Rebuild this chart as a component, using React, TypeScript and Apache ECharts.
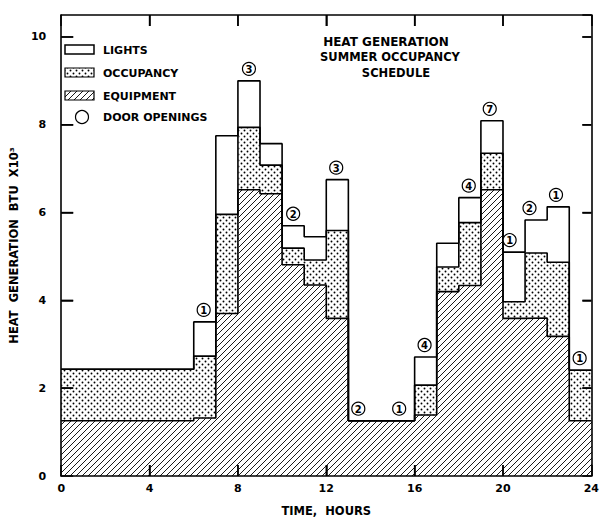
import React, { useEffect, useRef } from "react";
import * as echarts from "echarts";

// Hour bins (start of each bin; last bin ends at 24)
const hourStart = [0, 6, 7, 8, 9, 10, 11, 12, 13, 16, 17, 18, 19, 20, 21, 22, 23];
const hourEnd = 24;
// Heat generation components, BTU x10^3
const equipment = [1.26, 1.32, 3.7, 6.52, 6.43, 4.81, 4.35, 3.59, 1.26, 1.39, 4.2, 4.34, 6.52, 3.59, 3.6, 3.18, 1.26];
const occupancy = [1.17, 1.41, 2.26, 1.42, 0.65, 0.38, 0.57, 2.0, 0, 0.68, 0.56, 1.43, 0.83, 0.38, 1.48, 1.69, 1.15];
const lights = [0, 0.78, 1.79, 1.06, 0.49, 0.51, 0.53, 1.16, 0, 0.64, 0.54, 0.57, 0.74, 1.13, 0.75, 1.26, 0];
// Door openings (hour position, count)
const doorHour = [6.45, 8.5, 10.5, 12.45, 13.45, 15.3, 16.45, 18.45, 19.4, 20.3, 21.2, 22.4, 23.47];
const doorCount = [1, 3, 2, 3, 2, 1, 4, 4, 7, 1, 2, 1, 1];
// Axis ticks
const xTicks = { min: 0, max: 24, interval: 4 };
const yTicks = { min: 0, max: 10.5, interval: 2 };
const xTickMarks = [4, 8, 12, 16, 20];
const yTickMarks = [2, 4, 6, 8, 10];

const FONT = '"DejaVu Sans", sans-serif';

function makeHatch() {
  const s = 6;
  const c = document.createElement("canvas");
  c.width = s;
  c.height = s;
  const g = c.getContext("2d")!;
  g.fillStyle = "#fff";
  g.fillRect(0, 0, s, s);
  g.strokeStyle = "#000";
  g.lineWidth = 0.9;
  g.beginPath();
  g.moveTo(-1, s + 1);
  g.lineTo(s + 1, -1);
  g.moveTo(-1, 1);
  g.lineTo(1, -1);
  g.moveTo(s - 1, s + 1);
  g.lineTo(s + 1, s - 1);
  g.stroke();
  return { image: c, repeat: "repeat", imageWidth: s, imageHeight: s } as any;
}

function makeDots() {
  const s = 6;
  const c = document.createElement("canvas");
  c.width = s;
  c.height = s;
  const g = c.getContext("2d")!;
  g.fillStyle = "#fff";
  g.fillRect(0, 0, s, s);
  g.fillStyle = "#000";
  g.beginPath();
  g.arc(1.5, 1.5, 0.95, 0, Math.PI * 2);
  g.closePath();
  g.arc(4.5, 4.5, 0.95, 0, Math.PI * 2);
  g.fill();
  return { image: c, repeat: "repeat", imageWidth: s, imageHeight: s } as any;
}

export default function App() {
  const ref = useRef<HTMLDivElement>(null);
  useEffect(() => {
    if (!ref.current) return;
    const chart = echarts.init(ref.current, null, { renderer: "svg" });
    const hatch = makeHatch();
    const dots = makeDots();
    const eqTop = equipment.slice();
    const occTop = equipment.map((e, i) => e + occupancy[i]);
    const lightTop = occTop.map((o, i) => o + lights[i]);
    const binEnd = hourStart.map((_, i) => (i + 1 < hourStart.length ? hourStart[i + 1] : hourEnd));
    const bins = (lo: number[] | null, hi: number[]) =>
      hourStart.map((h, i) => [h, binEnd[i], lo ? lo[i] : 0, hi[i]]);
    const stepData = (vals: number[]) => {
      const d = hourStart.map((h, i) => [h, vals[i]]);
      d.push([hourEnd, vals[vals.length - 1]]);
      return d;
    };
    const doorData = doorHour.map((h, i) => {
      let k = 0;
      for (let j = 0; j < hourStart.length; j++) if (hourStart[j] <= h) k = j;
      return [h, lightTop[k], doorCount[i]];
    });
    const tickData = [
      ...xTickMarks.map((v) => [v, yTicks.min, 0]),
      ...yTickMarks.map((v) => [xTicks.min, v, 1]),
    ];

    const axisLine = { show: true, onZero: false, lineStyle: { color: "#000", width: 1.6 } };
    const tickStyle = { color: "#000", width: 1.5 };
    const labelStyle = { color: "#000", fontFamily: FONT, fontSize: 11, fontWeight: "bold" as const };

    const fillSeries = (name: string, lo: number[] | null, hi: number[], fill: any) => ({
      name,
      type: "custom",
      data: bins(lo, hi),
      encode: { x: [0, 1], y: [2, 3] },
      z: 2,
      silent: true,
      clip: true,
      renderItem: (params: any, api: any) => {
        const p0 = api.coord([api.value(0), api.value(2)]);
        const p1 = api.coord([api.value(1), api.value(3)]);
        const h = p0[1] - p1[1];
        if (h <= 0.01) return null;
        return {
          type: "rect",
          shape: { x: p0[0], y: p1[1], width: p1[0] - p0[0] + 0.6, height: h + 0.3 },
          style: { fill, stroke: null },
        };
      },
    });
    const lineSeries = (name: string, vals: number[]) => ({
      name,
      type: "line",
      step: "end",
      data: stepData(vals),
      symbol: "none",
      lineStyle: { color: "#000", width: 1.6 },
      z: 3,
      silent: true,
    });

    chart.setOption({
      animation: false,
      backgroundColor: "#fff",
      grid: { left: 58, right: 8, top: 15, bottom: 44 },
      xAxis: [
        {
          type: "value",
          position: "bottom",
          z: 10,
          ...xTicks,
          axisLine,
          axisTick: { show: true, inside: true, length: 11, lineStyle: tickStyle },
          axisLabel: { ...labelStyle, margin: 7 },
          splitLine: { show: false },
          name: "TIME,  HOURS",
          nameLocation: "middle",
          nameGap: 29,
          nameTextStyle: { ...labelStyle, fontSize: 11.5 },
        },
        {
          type: "value",
          position: "top",
          z: 10,
          ...xTicks,
          axisLine,
          axisTick: { show: true, inside: true, length: 11, lineStyle: tickStyle },
          axisLabel: { show: false },
          splitLine: { show: false },
        },
      ],
      yAxis: [
        {
          type: "value",
          position: "left",
          z: 10,
          ...yTicks,
          axisLine,
          axisTick: { show: true, inside: true, length: 12, lineStyle: tickStyle },
          axisLabel: {
            ...labelStyle,
            margin: 15,
            showMaxLabel: false,
            formatter: (v: number) => (v % 2 === 0 ? String(v) : ""),
          },
          splitLine: { show: false },
          name: "HEAT  GENERATION  BTU  X10³",
          nameLocation: "middle",
          nameGap: 32,
          nameRotate: 90,
          nameTextStyle: { ...labelStyle, fontSize: 11.5 },
        },
        {
          type: "value",
          position: "right",
          z: 10,
          ...yTicks,
          axisLine,
          axisTick: { show: true, inside: true, length: 9, lineStyle: tickStyle },
          axisLabel: { show: false },
          splitLine: { show: false },
        },
      ],
      series: [
        fillSeries("Equipment", null, eqTop, hatch),
        fillSeries("Occupancy", eqTop, occTop, dots),
        fillSeries("Lights", occTop, lightTop, "#fff"),
        lineSeries("Equipment outline", eqTop),
        lineSeries("Occupancy outline", occTop),
        lineSeries("Lights outline", lightTop),
        {
          name: "Tick marks",
          type: "custom",
          data: tickData,
          encode: { x: 0, y: 1 },
          z: 6,
          silent: true,
          clip: false,
          renderItem: (params: any, api: any) => {
            const cs = params.coordSys;
            const pt = api.coord([api.value(0), api.value(1)]);
            const ls = { stroke: "#000", lineWidth: 1.5 };
            if (api.value(2) === 0) {
              return {
                type: "group",
                children: [
                  { type: "line", shape: { x1: pt[0], y1: cs.y + cs.height, x2: pt[0], y2: cs.y + cs.height - 11 }, style: ls },
                  { type: "line", shape: { x1: pt[0], y1: cs.y, x2: pt[0], y2: cs.y + 11 }, style: ls },
                ],
              };
            }
            return {
              type: "group",
              children: [
                { type: "line", shape: { x1: cs.x, y1: pt[1], x2: cs.x + 12, y2: pt[1] }, style: ls },
                { type: "line", shape: { x1: cs.x + cs.width, y1: pt[1], x2: cs.x + cs.width - 9, y2: pt[1] }, style: ls },
              ],
            };
          },
        },
        {
          name: "Door openings",
          type: "custom",
          data: doorData,
          encode: { x: 0, y: 1 },
          z: 5,
          silent: true,
          renderItem: (params: any, api: any) => {
            const pt = api.coord([api.value(0), api.value(1)]);
            const cy = pt[1] - 12;
            return {
              type: "group",
              children: [
                {
                  type: "circle",
                  shape: { cx: pt[0], cy, r: 6.5 },
                  style: { fill: "#fff", stroke: "#000", lineWidth: 1.2 },
                },
                {
                  type: "text",
                  style: {
                    text: String(api.value(2)),
                    x: pt[0],
                    y: cy + 0.5,
                    align: "center",
                    verticalAlign: "middle",
                    font: `bold 10px ${FONT}`,
                    fill: "#000",
                  },
                },
              ],
            };
          },
        },
      ],
      graphic: [
        { type: "rect", shape: { x: 65, y: 45, width: 29, height: 9 }, style: { fill: "#fff", stroke: "#000", lineWidth: 1.5 } },
        { type: "rect", shape: { x: 65, y: 68, width: 29, height: 9 }, style: { fill: dots, stroke: "#000", lineWidth: 1.2 } },
        { type: "rect", shape: { x: 65, y: 91, width: 29, height: 9 }, style: { fill: hatch, stroke: "#000", lineWidth: 1.2 } },
        { type: "circle", shape: { cx: 82, cy: 117, r: 6.5 }, style: { fill: "#fff", stroke: "#000", lineWidth: 1.2 } },
        { type: "text", x: 103, y: 50, style: { text: "LIGHTS", font: `bold 11px ${FONT}`, fill: "#000", verticalAlign: "middle" } },
        { type: "text", x: 103, y: 73, style: { text: "OCCUPANCY", font: `bold 11px ${FONT}`, fill: "#000", verticalAlign: "middle" } },
        { type: "text", x: 103, y: 96, style: { text: "EQUIPMENT", font: `bold 11px ${FONT}`, fill: "#000", verticalAlign: "middle" } },
        { type: "text", x: 103, y: 117, style: { text: "DOOR OPENINGS", font: `bold 11px ${FONT}`, fill: "#000", verticalAlign: "middle" } },
        { type: "text", x: 386, y: 42, style: { text: "HEAT GENERATION", font: `bold 12px ${FONT}`, fill: "#000", align: "center", verticalAlign: "middle" } },
        { type: "text", x: 390, y: 57, style: { text: "SUMMER OCCUPANCY", font: `bold 11.5px ${FONT}`, fill: "#000", align: "center", verticalAlign: "middle" } },
        { type: "text", x: 396, y: 73, style: { text: "SCHEDULE", font: `bold 11.5px ${FONT}`, fill: "#000", align: "center", verticalAlign: "middle" } },
      ],
    });
    return () => chart.dispose();
  }, []);
  return <div ref={ref} style={{ position: "fixed", left: 0, top: 0, width: 602, height: 522, background: "#fff" }} />;
}
